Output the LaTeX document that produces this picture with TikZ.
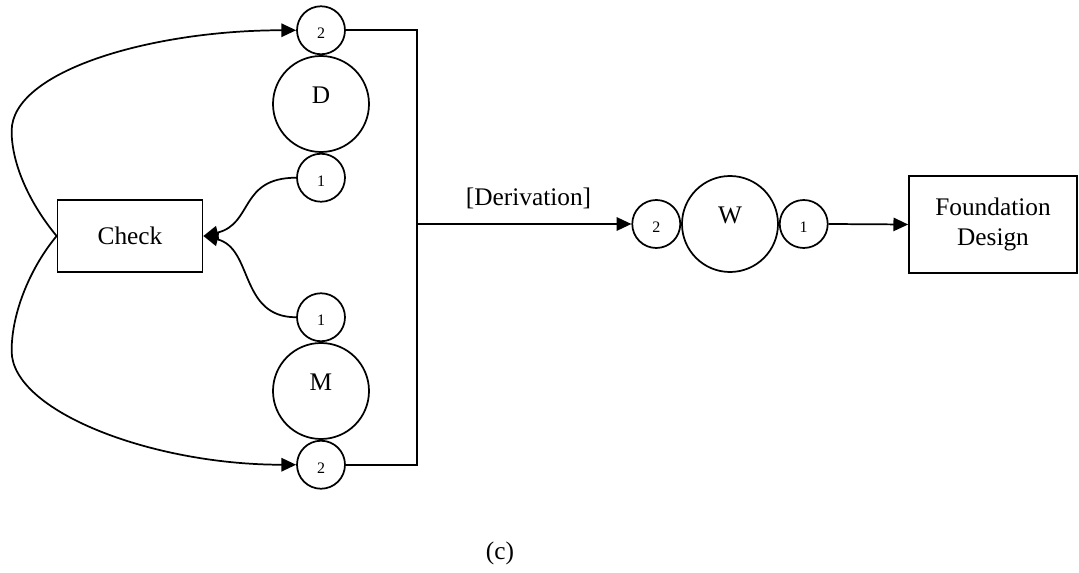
\documentclass[tikz,border=0pt]{standalone}
\usepackage{fontspec}
\setmainfont{Liberation Serif}
\usetikzlibrary{arrows.meta,positioning}

\begin{document}
\begin{tikzpicture}[
  x=0.75pt,y=-0.75pt,
  line width=1.3pt,
  font=\fontsize{19}{22.5}\selectfont,
  big/.style={draw,circle,minimum size=72pt,inner sep=0pt,text height=13pt,text depth=14pt},
  port/.style={draw,circle,minimum size=36pt,inner sep=0pt,
               font=\fontsize{12}{14}\selectfont,text height=13pt,text depth=0pt},
  blk/.style={draw,rectangle,inner sep=0pt,align=center},
  arr/.style={-{Triangle[length=11pt,width=10pt]}}
]
  \useasboundingbox (0,0) rectangle (1079,573);

  % models with their ports
  \node[big] (d) at (321,104) {D};
  \node[port,above=0pt of d] (d2) {2};
  \node[port,below=0pt of d] (d1) {1};
  \node[big] (m) at (321,391) {M};
  \node[port,above=0pt of m] (m1) {1};
  \node[port,below=0pt of m] (m2) {2};
  \node[big] (w) at (730,224) {W};
  \node[port,left=0pt of w] (w2) {2};
  \node[port,right=0pt of w] (w1) {1};

  \node[blk,minimum width=108.75pt,minimum height=54pt] (chk) at (130,236) {Check};
  \node[blk,minimum width=126pt,minimum height=72.75pt] (fd) at (993,224.5) {Foundation\\Design};
  \node (cap) at (500,553) {(c)};
  \coordinate (bus) at (417,224);

  \draw (d2.east) -| (bus) |- (m2.east);
  \draw[arr] (bus) -- node[above=7.5pt,pos=0.52] (deriv) {[Derivation]} (w2.west);
  \draw[arr] (w1.east) -- (fd.west);

  \draw[arr] (d1.west) .. controls +(-57,0) and +(50,-12) .. (chk.east);
  \draw[arr] (m1.west) .. controls +(-57,0) and +(50,12) .. (chk.east);
  \draw[arr] (chk.west) .. controls +(-25,-30) and +(0,35) .. ++(-45,-105)
    .. controls +(0,-60) and +(-145,0) .. (d2.west);
  \draw[arr] (chk.west) .. controls +(-25,30) and +(0,-40) .. ++(-45,115)
    .. controls +(0,60) and +(-145,0) .. (m2.west);
\end{tikzpicture}
\end{document}
